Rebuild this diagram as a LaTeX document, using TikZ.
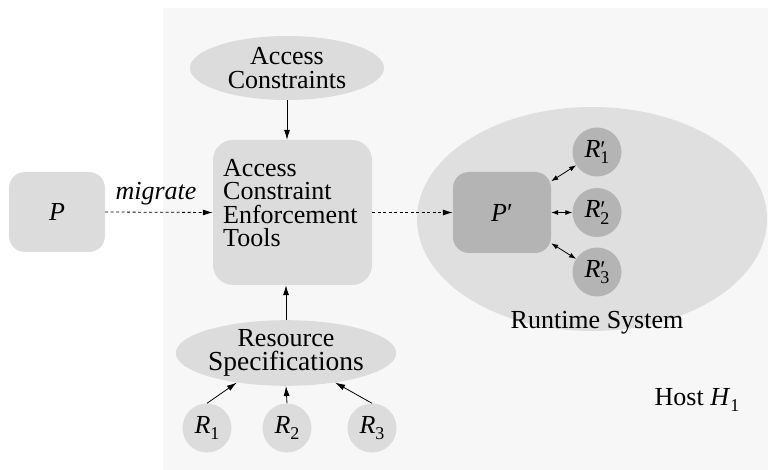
\documentclass[tikz,border=0pt]{standalone}
\usepackage{fontspec}
\setmainfont{Liberation Serif}
\usetikzlibrary{shapes.geometric,arrows.meta}
\definecolor{bgc}{HTML}{F7F7F7}
\definecolor{lgray}{HTML}{DCDCDC}
\definecolor{rtgray}{HTML}{DFDFDF}
\definecolor{dgray}{HTML}{B4B4B4}
\newcommand{\subd}[1]{\raisebox{-0.24em}{\fontsize{18}{18}\selectfont #1}}
\newcommand{\Rsub}[1]{\textit{R}\subd{#1}}
\newcommand{\Rpsub}[1]{\textit{R}\rlap{\fontsize{24}{24}\selectfont ′}\subd{#1}}
\begin{document}
\begin{tikzpicture}[x=1pt,y=-1pt,
  font=\fontsize{26}{23.5}\selectfont,
  boxn/.style={fill=lgray,rounded corners=16pt,inner sep=0pt},
  elln/.style={ellipse,fill=lgray,minimum width=194pt,minimum height=64pt,inner sep=0pt,align=center},
  resn/.style={circle,fill=lgray,minimum size=49pt,inner sep=0pt},
  resp/.style={circle,fill=dgray,minimum size=49pt,inner sep=0pt},
  arr/.style={-{Latex[length=10pt,width=6pt]},line width=0.8pt},
  darr/.style={arr,dash pattern=on 3pt off 2.5pt},
  barr/.style={{Latex[length=7pt,width=5pt]}-{Latex[length=7pt,width=5pt]},line width=0.8pt}]
\useasboundingbox (0,0) rectangle (768,470);
\fill[bgc] (163,8) rectangle (768,470);
% runtime system
\node[ellipse,fill=rtgray,minimum width=350pt,minimum height=224pt,inner sep=0pt] (RT) at (592,219) {};
\node[anchor=base] (RTl) at (597,328) {Runtime System};
\node[anchor=base] (H) at (697,405) {Host \textit{H}\subd{1}};
% left part
\node[boxn,minimum width=96pt,minimum height=80pt] (P) at (57,212) {\textit{P}};
\node[elln] (AC) at (287,68) {Access\\Constraints};
\node[boxn,rounded corners=20pt,minimum width=159pt,minimum height=145pt] (T) at (292.5,212.5) {};
\node[anchor=north west,align=left,inner sep=0pt] (Tt) at (223,159) {Access\\Constraint\\Enforcement\\Tools};
\node[elln] (RS) at (286,353) {Resource\\{\fontsize{27.5}{23.5}\selectfont Specifications}};
\node[resn] (R1) at (207,428) {\Rsub{1}};
\node[resn] (R2) at (287,428) {\Rsub{2}};
\node[resn] (R3) at (372,428) {\Rsub{3}};
% runtime internals
\node[fill=dgray,rounded corners=16pt,minimum width=98pt,minimum height=81pt,inner sep=0pt] (Pp) at (502,212.5) {\textit{P}′};
\node[resp] (Q1) at (597,152) {\Rpsub{1}};
\node[resp] (Q2) at (597,212.5) {\Rpsub{2}};
\node[resp] (Q3) at (597,272) {\Rpsub{3}};
% connectors
\draw[darr] (P.east) -- (T.west);
\node[anchor=base] (mig) at (156,200) {\textit{migrate}};
\draw[darr] (T.east) -- (Pp.west);
\draw[arr] (AC.south) -- (AC.south |- T.north);
\draw[arr] (RS.north) -- (RS.north |- T.south);
\draw[arr] (R1.north) -- (RS.-149);
\draw[arr] (R2.north) -- (RS.south);
\draw[arr] (R3.north) -- (RS.-31);
\draw[barr] (Pp) -- (Q1);
\draw[barr] (Pp.east) -- (Q2.west);
\draw[barr] (Pp) -- (Q3);
\end{tikzpicture}
\end{document}
